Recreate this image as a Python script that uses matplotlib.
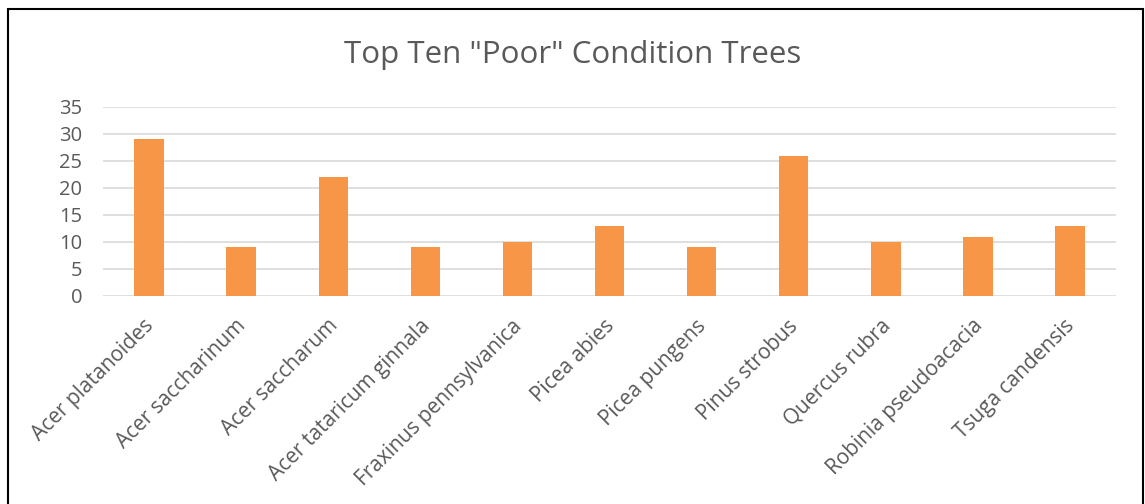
import matplotlib.pyplot as plt
from matplotlib.patches import Rectangle
from matplotlib.transforms import ScaledTranslation

species = ['Acer platanoides', 'Acer saccharinum', 'Acer saccharum',
           'Acer tataricum ginnala', 'Fraxinus pennsylvanica', 'Picea abies',
           'Picea pungens', 'Pinus strobus', 'Quercus rubra',
           'Robinia pseudoacacia', 'Tsuga candensis']
poor_counts = [29, 9, 22, 9, 10, 13, 9, 26, 10, 11, 13]
y_ticks = [0, 5, 10, 15, 20, 25, 30, 35]

plt.rcParams['font.family'] = ['Open Sans', 'DejaVu Sans']
text_color = '#595959'

fig = plt.figure(figsize=(11.45, 5.04), dpi=100)
ax = fig.add_axes([0.09, 0.4127, 0.8847, 0.375])

x = range(len(species))
ax.bar(x, poor_counts, width=0.32, color='#F79646', zorder=3)

ax.set_xlim(-0.5, len(species) - 0.5)
ax.set_ylim(0, 35)
ax.set_yticks(y_ticks)
ax.set_xticks(list(x))
ax.set_xticklabels(species, rotation=45, ha='right', rotation_mode='anchor')
ax.tick_params(axis='y', length=0, labelsize=14.5, labelcolor=text_color, pad=15)
ax.tick_params(axis='x', length=0, labelsize=15, labelcolor=text_color, pad=14)
shift = ScaledTranslation(-6 / 100, 0, fig.dpi_scale_trans)
for lbl in ax.get_xticklabels():
    lbl.set_transform(lbl.get_transform() + shift)
ax.grid(axis='y', color='#D9D9D9', linewidth=1.2, zorder=0)
for s in ax.spines.values():
    s.set_visible(False)

fig.text(0.5, 0.89, 'Top Ten "Poor" Condition Trees', ha='center', va='center',
         fontsize=22.5, color=text_color)

# outer border
fig.patches.append(Rectangle((8 / 1145, -0.05), 1135 / 1145, 1 - 9 / 504 + 0.05,
                             transform=fig.transFigure, fill=False,
                             edgecolor='black', linewidth=1.5))

fig.savefig('out.png', dpi=100)
